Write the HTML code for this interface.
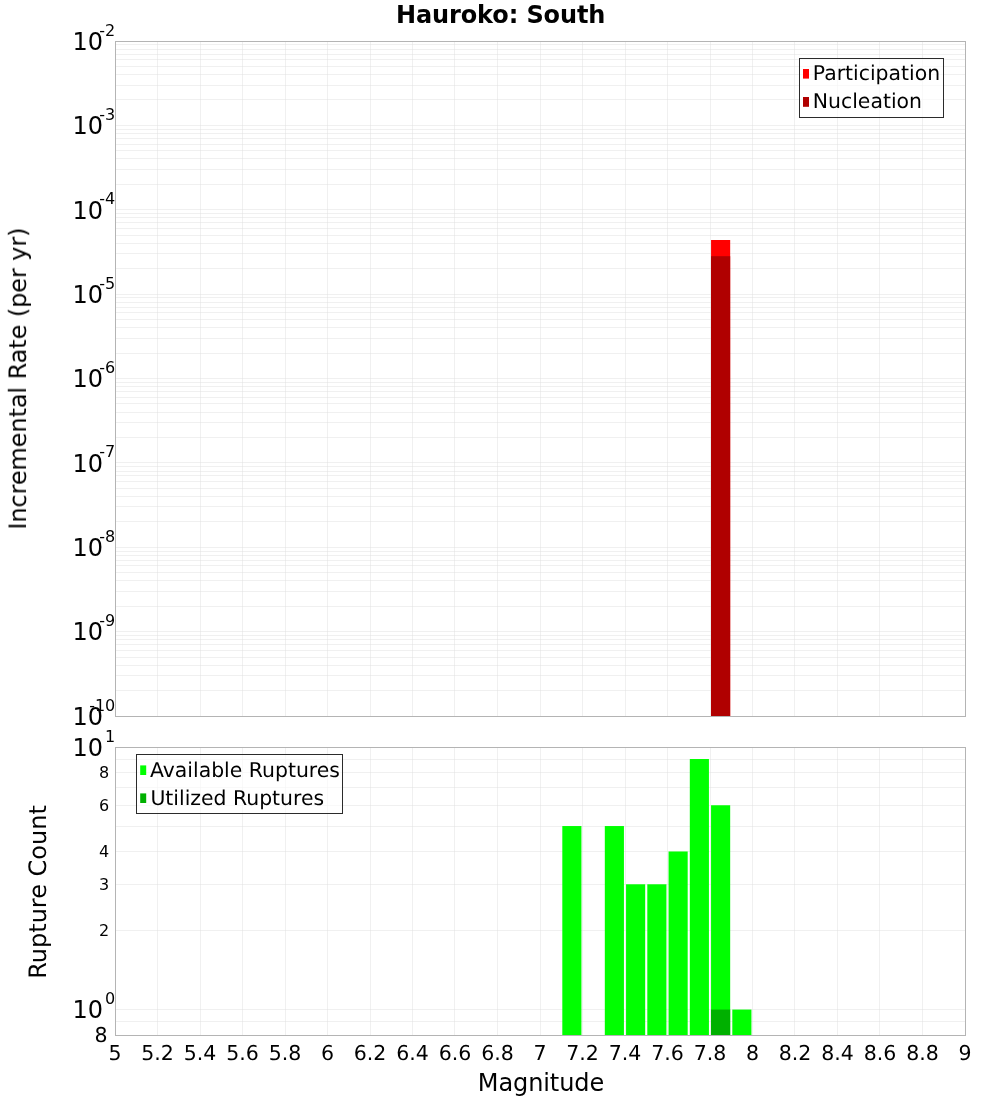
<!DOCTYPE html><html><head><meta charset="utf-8"><style>html,body{margin:0;padding:0;background:#fff;}svg{display:block;}text{font-family:"DejaVu Sans","Liberation Sans",sans-serif;fill:#000;}</style></head><body>
<svg width="1000" height="1100" viewBox="0 0 1000 1100">
<rect x="0" y="0" width="1000" height="1100" fill="#fff"/>
<path d="M157.5 41.5V716.5M200.5 41.5V716.5M242.5 41.5V716.5M285.5 41.5V716.5M327.5 41.5V716.5M370.5 41.5V716.5M412.5 41.5V716.5M454.5 41.5V716.5M497.5 41.5V716.5M540.5 41.5V716.5M582.5 41.5V716.5M625.5 41.5V716.5M667.5 41.5V716.5M710.5 41.5V716.5M752.5 41.5V716.5M794.5 41.5V716.5M837.5 41.5V716.5M879.5 41.5V716.5M922.5 41.5V716.5" stroke="#dfdfdf" stroke-opacity="0.47" stroke-width="1" fill="none"/>
<path d="M115.5 690.5H965.5M115.5 675.5H965.5M115.5 665.5H965.5M115.5 657.5H965.5M115.5 650.5H965.5M115.5 644.5H965.5M115.5 639.5H965.5M115.5 635.5H965.5M115.5 631.5H965.5M115.5 606.5H965.5M115.5 591.5H965.5M115.5 580.5H965.5M115.5 572.5H965.5M115.5 565.5H965.5M115.5 560.5H965.5M115.5 555.5H965.5M115.5 551.5H965.5M115.5 547.5H965.5M115.5 521.5H965.5M115.5 506.5H965.5M115.5 496.5H965.5M115.5 488.5H965.5M115.5 481.5H965.5M115.5 475.5H965.5M115.5 471.5H965.5M115.5 466.5H965.5M115.5 462.5H965.5M115.5 437.5H965.5M115.5 422.5H965.5M115.5 412.5H965.5M115.5 403.5H965.5M115.5 397.5H965.5M115.5 391.5H965.5M115.5 386.5H965.5M115.5 382.5H965.5M115.5 378.5H965.5M115.5 353.5H965.5M115.5 338.5H965.5M115.5 327.5H965.5M115.5 319.5H965.5M115.5 312.5H965.5M115.5 307.5H965.5M115.5 302.5H965.5M115.5 297.5H965.5M115.5 294.5H965.5M115.5 268.5H965.5M115.5 253.5H965.5M115.5 243.5H965.5M115.5 235.5H965.5M115.5 228.5H965.5M115.5 222.5H965.5M115.5 217.5H965.5M115.5 213.5H965.5M115.5 209.5H965.5M115.5 184.5H965.5M115.5 169.5H965.5M115.5 158.5H965.5M115.5 150.5H965.5M115.5 144.5H965.5M115.5 138.5H965.5M115.5 133.5H965.5M115.5 129.5H965.5M115.5 125.5H965.5M115.5 99.5H965.5M115.5 85.5H965.5M115.5 74.5H965.5M115.5 66.5H965.5M115.5 59.5H965.5M115.5 54.5H965.5M115.5 49.5H965.5M115.5 44.5H965.5" stroke="#dfdfdf" stroke-opacity="0.47" stroke-width="1" fill="none"/>
<rect x="711.06" y="240.00" width="19.12" height="476.00" fill="#ff0000"/>
<rect x="711.06" y="256.20" width="19.12" height="459.80" fill="#b00000"/>
<rect x="115.5" y="41.5" width="850.0" height="675.0" fill="none" stroke="#b4b4b4" stroke-width="1"/>
<path d="M157.5 747.5V1035.5M200.5 747.5V1035.5M242.5 747.5V1035.5M285.5 747.5V1035.5M327.5 747.5V1035.5M370.5 747.5V1035.5M412.5 747.5V1035.5M454.5 747.5V1035.5M497.5 747.5V1035.5M540.5 747.5V1035.5M582.5 747.5V1035.5M625.5 747.5V1035.5M667.5 747.5V1035.5M710.5 747.5V1035.5M752.5 747.5V1035.5M794.5 747.5V1035.5M837.5 747.5V1035.5M879.5 747.5V1035.5M922.5 747.5V1035.5" stroke="#dfdfdf" stroke-opacity="0.47" stroke-width="1" fill="none"/>
<path d="M115.5 1021.5H965.5M115.5 1009.5H965.5M115.5 930.5H965.5M115.5 884.5H965.5M115.5 851.5H965.5M115.5 826.5H965.5M115.5 805.5H965.5M115.5 787.5H965.5M115.5 772.5H965.5M115.5 759.5H965.5" stroke="#dfdfdf" stroke-opacity="0.47" stroke-width="1" fill="none"/>
<rect x="562.31" y="826.04" width="19.12" height="208.96" fill="#00ff00"/>
<rect x="604.81" y="826.04" width="19.12" height="208.96" fill="#00ff00"/>
<rect x="626.06" y="884.28" width="19.12" height="150.72" fill="#00ff00"/>
<rect x="647.31" y="884.28" width="19.12" height="150.72" fill="#00ff00"/>
<rect x="668.56" y="851.48" width="19.12" height="183.52" fill="#00ff00"/>
<rect x="689.81" y="759.01" width="19.12" height="275.99" fill="#00ff00"/>
<rect x="711.06" y="805.25" width="19.12" height="229.75" fill="#00ff00"/>
<rect x="732.31" y="1009.56" width="19.12" height="25.44" fill="#00ff00"/>
<rect x="711.06" y="1009.56" width="19.12" height="25.44" fill="#00b000"/>
<rect x="115.5" y="747.5" width="850.0" height="288.0" fill="none" stroke="#b4b4b4" stroke-width="1"/>
<rect x="799.5" y="58.5" width="144" height="59" fill="#fff" fill-opacity="0.6" stroke="#2b2b2b" stroke-width="1"/>
<rect x="803" y="69" width="6" height="9.6" fill="#ff0000"/>
<rect x="803" y="97" width="6" height="9.8" fill="#b00000"/>
<rect x="136.5" y="754.5" width="206" height="59" fill="#fff" fill-opacity="0.6" stroke="#2b2b2b" stroke-width="1"/>
<rect x="140.2" y="765.4" width="6" height="9.6" fill="#00ff00"/>
<rect x="140.2" y="793.4" width="6" height="9.6" fill="#00b000"/>
<g opacity="0.999">
<text x="500.7" y="23" font-size="24" font-weight="bold" text-anchor="middle" textLength="209.5" lengthAdjust="spacing">Hauroko: South</text>
<text x="812.8" y="80" font-size="20.4" text-rendering="geometricPrecision">Participation</text>
<text x="812.8" y="107.6" font-size="20.4" text-rendering="geometricPrecision">Nucleation</text>
<text x="150" y="776.8" font-size="20.4" text-rendering="geometricPrecision">Available Ruptures</text>
<text x="150.4" y="804.9" font-size="20.4" text-rendering="geometricPrecision">Utilized Ruptures</text>
<text x="72.6" y="50" font-size="24">10</text>
<text x="115.3" y="36" font-size="16" text-anchor="end">-2</text>
<text x="72.6" y="134" font-size="24">10</text>
<text x="115.3" y="120" font-size="16" text-anchor="end">-3</text>
<text x="72.6" y="219" font-size="24">10</text>
<text x="115.3" y="204" font-size="16" text-anchor="end">-4</text>
<text x="72.6" y="303" font-size="24">10</text>
<text x="115.3" y="289" font-size="16" text-anchor="end">-5</text>
<text x="72.6" y="387" font-size="24">10</text>
<text x="115.3" y="373" font-size="16" text-anchor="end">-6</text>
<text x="72.6" y="472" font-size="24">10</text>
<text x="115.3" y="457" font-size="16" text-anchor="end">-7</text>
<text x="72.6" y="556" font-size="24">10</text>
<text x="115.3" y="542" font-size="16" text-anchor="end">-8</text>
<text x="72.6" y="640" font-size="24">10</text>
<text x="115.3" y="626" font-size="16" text-anchor="end">-9</text>
<text x="72.6" y="725" font-size="24">10</text>
<text x="115.3" y="711" font-size="16" text-anchor="end">-10</text>
<text x="72.6" y="756" font-size="24">10</text>
<text x="115.3" y="742" font-size="16" text-anchor="end">1</text>
<text x="72.6" y="1018" font-size="24">10</text>
<text x="115.3" y="1004" font-size="16" text-anchor="end">0</text>
<text x="109.2" y="778" font-size="16" text-anchor="end">8</text>
<text x="109.2" y="811" font-size="16" text-anchor="end">6</text>
<text x="109.2" y="857" font-size="16" text-anchor="end">4</text>
<text x="109.2" y="890" font-size="16" text-anchor="end">3</text>
<text x="109.2" y="936" font-size="16" text-anchor="end">2</text>
<text x="107.6" y="1041.7" font-size="20.5" text-rendering="geometricPrecision" text-anchor="end">8</text>
<text x="115.00" y="1059.8" font-size="20.5" text-rendering="geometricPrecision" text-anchor="middle">5</text>
<text x="157.50" y="1059.8" font-size="20.5" text-rendering="geometricPrecision" text-anchor="middle">5.2</text>
<text x="200.00" y="1059.8" font-size="20.5" text-rendering="geometricPrecision" text-anchor="middle">5.4</text>
<text x="242.50" y="1059.8" font-size="20.5" text-rendering="geometricPrecision" text-anchor="middle">5.6</text>
<text x="285.00" y="1059.8" font-size="20.5" text-rendering="geometricPrecision" text-anchor="middle">5.8</text>
<text x="327.50" y="1059.8" font-size="20.5" text-rendering="geometricPrecision" text-anchor="middle">6</text>
<text x="370.00" y="1059.8" font-size="20.5" text-rendering="geometricPrecision" text-anchor="middle">6.2</text>
<text x="412.50" y="1059.8" font-size="20.5" text-rendering="geometricPrecision" text-anchor="middle">6.4</text>
<text x="455.00" y="1059.8" font-size="20.5" text-rendering="geometricPrecision" text-anchor="middle">6.6</text>
<text x="497.50" y="1059.8" font-size="20.5" text-rendering="geometricPrecision" text-anchor="middle">6.8</text>
<text x="540.00" y="1059.8" font-size="20.5" text-rendering="geometricPrecision" text-anchor="middle">7</text>
<text x="582.50" y="1059.8" font-size="20.5" text-rendering="geometricPrecision" text-anchor="middle">7.2</text>
<text x="625.00" y="1059.8" font-size="20.5" text-rendering="geometricPrecision" text-anchor="middle">7.4</text>
<text x="667.50" y="1059.8" font-size="20.5" text-rendering="geometricPrecision" text-anchor="middle">7.6</text>
<text x="710.00" y="1059.8" font-size="20.5" text-rendering="geometricPrecision" text-anchor="middle">7.8</text>
<text x="752.50" y="1059.8" font-size="20.5" text-rendering="geometricPrecision" text-anchor="middle">8</text>
<text x="795.00" y="1059.8" font-size="20.5" text-rendering="geometricPrecision" text-anchor="middle">8.2</text>
<text x="837.50" y="1059.8" font-size="20.5" text-rendering="geometricPrecision" text-anchor="middle">8.4</text>
<text x="880.00" y="1059.8" font-size="20.5" text-rendering="geometricPrecision" text-anchor="middle">8.6</text>
<text x="922.50" y="1059.8" font-size="20.5" text-rendering="geometricPrecision" text-anchor="middle">8.8</text>
<text x="965.00" y="1059.8" font-size="20.5" text-rendering="geometricPrecision" text-anchor="middle">9</text>
<text x="541" y="1091" font-size="24" text-anchor="middle" textLength="126.4" lengthAdjust="spacing">Magnitude</text>
<text transform="translate(26,378.6) rotate(-90)" font-size="24" text-rendering="geometricPrecision" text-anchor="middle" textLength="302.1" lengthAdjust="spacing">Incremental Rate (per yr)</text>
<text transform="translate(46,892) rotate(-90)" font-size="24" text-rendering="geometricPrecision" text-anchor="middle">Rupture Count</text>
</g>
</svg></body></html>
